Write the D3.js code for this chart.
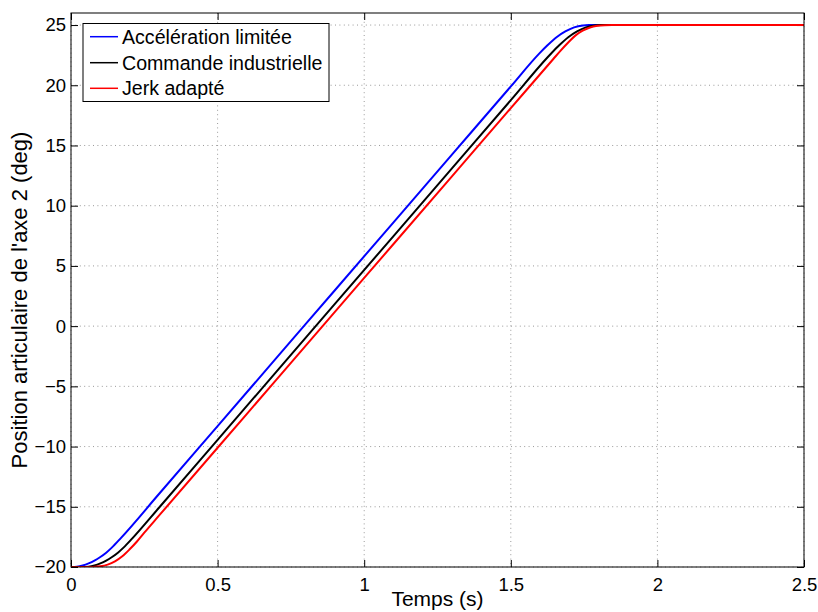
<!DOCTYPE html>
<html>
<head>
<meta charset="utf-8">
<script src="https://cdn.jsdelivr.net/npm/d3@7"></script>
<style>
  html, body { margin: 0; padding: 0; background: #fff; }
  svg { display: block; font-family: "Liberation Sans", Arial, Helvetica, sans-serif; }
</style>
</head>
<body>
<svg id="chart" width="818" height="612"></svg>
<script>
// ---- Data ----
const seriesNames = ["Accélération limitée", "Commande industrielle", "Jerk adapté"];
const seriesColors = ["#0000ff", "#000000", "#ff0000"];

const blueT = [0, 0.02, 0.04, 0.06, 0.08, 0.10, 0.12, 0.14, 0.17, 0.3, 0.5, 0.7, 0.9, 1.1, 1.3, 1.5, 1.596, 1.626, 1.656, 1.686, 1.716, 1.746, 1.766, 2.0, 2.5];
const blueV = [-20, -19.97, -19.87, -19.70, -19.47, -19.17, -18.81, -18.37, -17.60, -13.94, -8.30, -2.66, 2.98, 8.62, 14.26, 19.90, 22.61, 23.34, 23.99, 24.47, 24.81, 24.97, 25, 25, 25];

const blackT = [0, 0.04, 0.06, 0.08, 0.10, 0.12, 0.14, 0.16, 0.18, 0.21, 0.3, 0.5, 0.7, 0.9, 1.1, 1.3, 1.5, 1.636, 1.666, 1.696, 1.726, 1.756, 1.786, 1.806, 2.0, 2.5];
const blackV = [-20, -20, -19.97, -19.87, -19.70, -19.47, -19.17, -18.81, -18.37, -17.60, -15.08, -9.44, -3.80, 1.84, 7.48, 13.12, 18.76, 22.60, 23.34, 23.99, 24.47, 24.81, 24.97, 25, 25, 25];

const redT = [0, 0.05, 0.075, 0.10, 0.125, 0.15, 0.175, 0.20, 0.225, 0.25, 0.3, 0.5, 0.7, 0.9, 1.1, 1.3, 1.5, 1.645, 1.67, 1.695, 1.72, 1.745, 1.77, 1.795, 1.82, 1.845, 2.0, 2.5];
const redV = [-20, -20, -19.99, -19.94, -19.80, -19.53, -19.11, -18.53, -17.88, -17.15, -15.74, -10.10, -4.46, 1.18, 6.82, 12.46, 18.10, 22.18, 22.88, 23.53, 24.12, 24.53, 24.80, 24.94, 24.99, 25, 25, 25];

const xTicks = [0, 0.5, 1, 1.5, 2, 2.5];
const yTicks = [-20, -15, -10, -5, 0, 5, 10, 15, 20, 25];
const xLabel = "Temps (s)";
const yLabel = "Position articulaire de l'axe 2 (deg)";

// ---- Layout ----
const svg = d3.select("#chart");
const L = 71, R = 804, T = 13, B = 567;
const x = d3.scaleLinear().domain([0, 2.5]).range([L, R]);
const y = d3.scaleLinear().domain([-20, 26]).range([B, T]);
const fmt = d => d3.format("")(d).replace("-", "\u2212");

// grid
const grid = svg.append("g");
grid.selectAll("line.gx").data(xTicks).join("line")
  .attr("x1", d => x(d)).attr("x2", d => x(d)).attr("y1", T).attr("y2", B)
  .attr("stroke", "#9a9a9a").attr("stroke-width", 1).attr("stroke-dasharray", "1,3.4");
grid.selectAll("line.gy").data(yTicks).join("line")
  .attr("y1", d => y(d)).attr("y2", d => y(d)).attr("x1", L).attr("x2", R)
  .attr("stroke", "#9a9a9a").attr("stroke-width", 1).attr("stroke-dasharray", "1,3.4");

// axes (MATLAB style: ticks inward on all four sides)
const tickLen = 7;
const axB = d3.axisBottom(x).tickValues(xTicks).tickFormat(fmt).tickSizeInner(-tickLen).tickSizeOuter(0).tickPadding(11);
const axT = d3.axisTop(x).tickValues(xTicks).tickFormat("").tickSizeInner(-tickLen).tickSizeOuter(0);
const axL = d3.axisLeft(y).tickValues(yTicks).tickFormat(fmt).tickSizeInner(-tickLen).tickSizeOuter(0).tickPadding(5);
const axR = d3.axisRight(y).tickValues(yTicks).tickFormat("").tickSizeInner(-tickLen).tickSizeOuter(0);

function style(g) {
  g.select(".domain").remove();
  g.selectAll(".tick line").attr("stroke", "#000").attr("stroke-width", 1);
  g.selectAll(".tick text").attr("fill", "#000").attr("font-size", 18.5);
}
svg.append("g").attr("transform", `translate(0,${B})`).call(axB).call(style);
svg.append("g").attr("transform", `translate(0,${T})`).call(axT).call(style);
svg.append("g").attr("transform", `translate(${L},0)`).call(axL).call(style);
svg.append("g").attr("transform", `translate(${R},0)`).call(axR).call(style);

// lines
const line = d3.line().x(d => x(d[0])).y(d => y(d[1])).curve(d3.curveMonotoneX);
const series = [
  d3.zip(blueT, blueV),
  d3.zip(blackT, blackV),
  d3.zip(redT, redV)
];
const clipId = "plotclip";
svg.append("clipPath").attr("id", clipId).append("rect")
  .attr("x", L).attr("y", T).attr("width", R - L).attr("height", B - T);
svg.append("g").attr("clip-path", `url(#${clipId})`)
  .selectAll("path").data(series).join("path")
  .attr("d", line).attr("fill", "none")
  .attr("stroke", (d, i) => seriesColors[i]).attr("stroke-width", 2);

// box
svg.append("rect").attr("x", L).attr("y", T).attr("width", R - L).attr("height", B - T)
  .attr("fill", "none").attr("stroke", "#000").attr("stroke-width", 1);

// axis labels
svg.append("text").attr("x", (L + R) / 2).attr("y", 606).attr("text-anchor", "middle")
  .attr("font-size", 21).text(xLabel);
svg.append("text").attr("transform", `translate(27,300) rotate(-90)`)
  .attr("text-anchor", "middle").attr("font-size", 22).text(yLabel);

// legend
const lg = svg.append("g");
lg.append("rect").attr("x", 83).attr("y", 23.5).attr("width", 246).attr("height", 78)
  .attr("fill", "#fff").attr("stroke", "#000").attr("stroke-width", 1);
const rows = [36.7, 62.7, 88.3];
seriesNames.forEach((n, i) => {
  lg.append("line").attr("x1", 90).attr("x2", 118).attr("y1", rows[i]).attr("y2", rows[i])
    .attr("stroke", seriesColors[i]).attr("stroke-width", 1.5);
  lg.append("text").attr("x", 122).attr("y", rows[i]).attr("dy", "0.35em")
    .attr("font-size", 19.6).text(n);
});
</script>
</body>
</html>
